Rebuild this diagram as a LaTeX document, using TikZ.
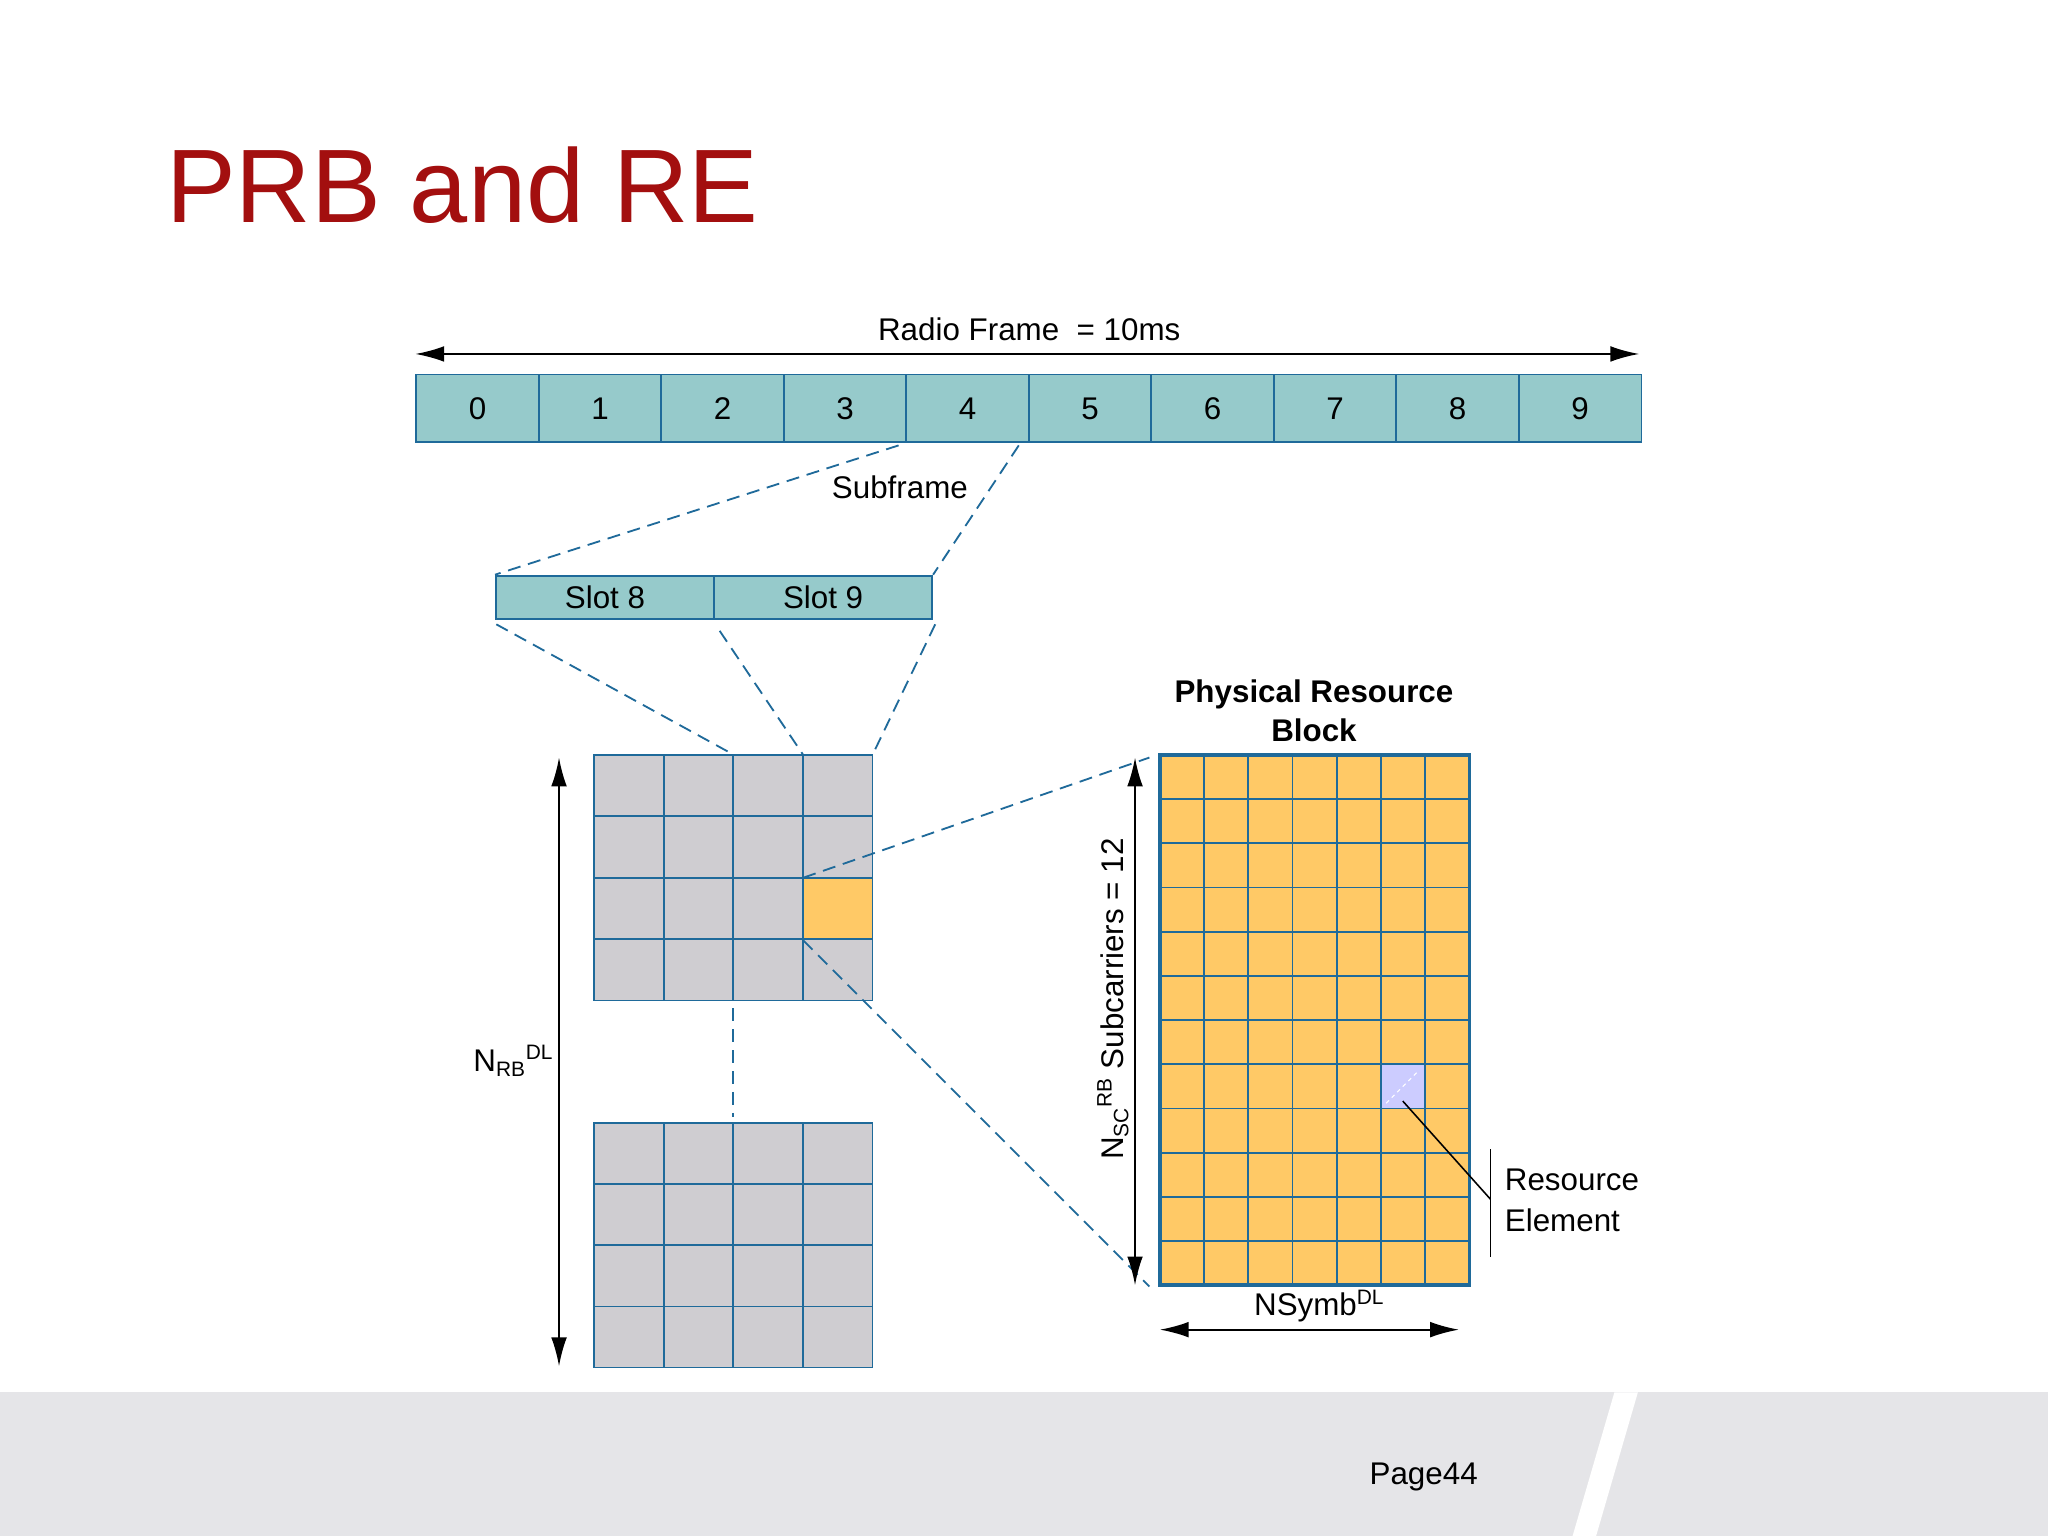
\documentclass[tikz,border=0pt]{standalone}
\usepackage{fontspec}
\setmainfont{Liberation Sans}
\usetikzlibrary{arrows.meta,patterns}
\definecolor{teal1}{HTML}{96CACB}
\definecolor{bord}{HTML}{1F6A9A}
\definecolor{gcell}{HTML}{CFCDD1}
\definecolor{ocell}{HTML}{FFC966}
\definecolor{titlered}{HTML}{A30F0F}
\definecolor{band}{HTML}{E5E5E8}
\tikzset{
 lbl/.style={font=\fontsize{24}{28}\selectfont, inner sep=0pt},
 dsh/.style={dashed, dash pattern=on 10pt off 6pt, draw=bord, line width=1.4pt},
 cellbox/.style={draw=bord, line width=1.4pt},
 arr/.style={line width=1.5pt, {Latex[length=22pt,width=12pt]}-{Latex[length=22pt,width=12pt]}}
}
\begin{document}
\begin{tikzpicture}[x=1pt,y=-1pt]
\useasboundingbox (0,0) rectangle (1568,1176);
\fill[white] (0,0) rectangle (1568,1176);
\fill[band] (0,1066) rectangle (1568,1176);
\fill[white] (1236,1066) -- (1254,1066) -- (1222,1176) -- (1204,1176) -- cycle;
\node[anchor=base west, text=titlered, font=\fontsize{80}{90}\selectfont, inner sep=0pt] (title) at (127,170) {PRB and RE};
% radio frame
\coordinate (rfL) at (318,271); \coordinate (rfR) at (1255,271);
\draw[arr] (rfL) -- (rfR);
\node[lbl] (rf) at (788,252) {Radio Frame\ \ = 10ms};
\foreach \i in {0,...,9}{
  \node[cellbox, fill=teal1, minimum width=93.8pt, minimum height=52pt, anchor=north west, inner sep=0pt, font=\fontsize{24}{28}\selectfont] (sf\i) at ({318+93.8*\i},286) {\i};
}
\node[cellbox, fill=teal1, minimum width=167pt, minimum height=33pt, anchor=north west, inner sep=0pt, font=\fontsize{24}{28}\selectfont] (s8) at (379,440) {Slot 8};
\node[cellbox, fill=teal1, minimum width=167pt, minimum height=33pt, anchor=north west, inner sep=0pt, font=\fontsize{24}{28}\selectfont] (s9) at (546,440) {Slot 9};
\draw[dsh] (688,341) -- (s8.north west);
\draw[dsh] (780,341) -- (s9.north east);
\node[lbl, fill=white, inner sep=2pt] (subf) at (689,373) {Subframe};
% grid 1
\foreach \c in {0,...,3}{\foreach \r in {0,...,3}{
  \draw[cellbox, fill=gcell] ({455+53.25*\c},{578+47*\r}) rectangle ++(53.25,47);
  \draw[cellbox, fill=gcell] ({455+53.25*\c},{860+46.75*\r}) rectangle ++(53.25,46.75);
}}
\draw[cellbox, fill=ocell] ({455+53.25*3},{578+47*2}) rectangle ++(53.25,47);
\draw[dsh] (380,478) -- (562,578);
\draw[dsh] (551,483) -- (615,578);
\draw[dsh] (716,478) -- (668,578);
\draw[dsh] (561,772) -- (561,855);
\coordinate (nt) at (428,580); \coordinate (nb) at (428,1046);
\draw[arr] (nt) -- (nb);
\node[lbl] (nrb) at (393,812) {N\textsubscript{\fontsize{16}{18}\selectfont RB}\textsuperscript{\fontsize{16}{18}\selectfont DL}};
% PRB
\foreach \c in {0,...,6}{\foreach \r in {0,...,11}{
  \draw[cellbox, fill=ocell] ({888+33.86*\c},{578+33.83*\r}) rectangle ++(33.86,33.83);
}}
\fill[blue!20] ({888+33.86*5},{578+33.83*7}) rectangle ++(33.86,33.83);
\draw[white, line width=0.8pt, dashed] ({888+33.86*5+4},{578+33.83*8-4}) -- ++(25,-25);
\draw[cellbox] ({888+33.86*5},{578+33.83*7}) rectangle ++(33.86,33.83);
\draw[draw=bord, line width=2.8pt] (888,578) rectangle (1125,984);
\draw[dsh] (615,672) -- (880,580);
\draw[dsh] (615,720) -- (880,985);
\node[lbl, font=\fontsize{24}{30}\selectfont\bfseries, align=center] (prbl) at (1006,544) {Physical Resource\\Block};
\coordinate (vt) at (869,580); \coordinate (vb) at (869,984);
\draw[arr] (vt) -- (vb);
\node[lbl, rotate=90] (nsc) at (852,765) {N\textsubscript{\fontsize{16}{18}\selectfont SC}\textsuperscript{\fontsize{16}{18}\selectfont RB} Subcarriers = 12};
\coordinate (hl) at (888,1018); \coordinate (hr) at (1117,1018);
\draw[arr] (hl) -- (hr);
\node[lbl] (nsym) at (1010,1000) {NSymb\textsuperscript{\fontsize{16}{18}\selectfont DL}};
\coordinate (rea) at (1074,843); \coordinate (reb) at (1141,918);
\draw[line width=1.2pt] (rea) -- (reb);
\draw[line width=1.2pt] (1141,880) -- (1141,962);
\node[lbl, anchor=west, align=left, font=\fontsize{24}{32}\selectfont] (rel) at (1152,919) {Resource\\Element};
\node[lbl] (page) at (1090,1131) {Page44};
\end{tikzpicture}
\end{document}
